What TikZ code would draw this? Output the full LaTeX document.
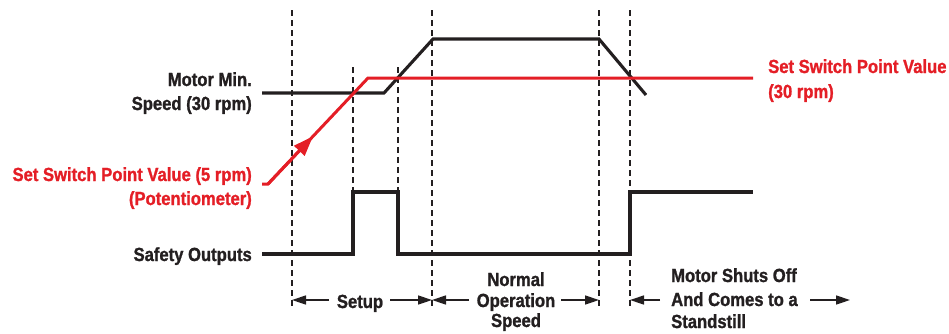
\documentclass[tikz,border=0pt]{standalone}
\usepackage{fontspec}
\setmainfont{Liberation Sans}[FakeStretch=0.875, BoldFeatures={FakeBold=1.2}]
\usetikzlibrary{arrows.meta,calc}
\definecolor{sred}{HTML}{E41E26}
\definecolor{sblk}{HTML}{231F20}
\begin{document}
\begin{tikzpicture}[x=1pt,y=-1pt,
  sig/.style={line width=3.1pt, sblk, line join=miter},
  rsig/.style={line width=3pt, sred, line join=miter},
  guide/.style={line width=1.3pt, sblk, dash pattern=on 6pt off 4pt},
  lbl/.style={font=\fontsize{19}{24}\selectfont\bfseries, text=sblk, inner sep=0pt},
  rlbl/.style={lbl, text=sred},
  span/.style={line width=1.5pt, sblk, -{Triangle[length=14pt,width=9pt]}},
]
\useasboundingbox (0,0) rectangle (949,333);

% guide lines
\coordinate (g1t) at (292,10);  \coordinate (g1b) at (292,308);
\coordinate (g2t) at (353,67);  \coordinate (g2b) at (353,192);
\coordinate (g3t) at (398,67);  \coordinate (g3b) at (398,192);
\coordinate (g4t) at (432,10);  \coordinate (g4b) at (432,308);
\coordinate (g5t) at (599,10);  \coordinate (g5b) at (599,308);
\coordinate (g6t) at (630,10);  \coordinate (g6b) at (630,308);
\foreach \g in {1,...,6} { \draw[guide] (g\g t) -- (g\g b); }

% motor speed
\coordinate (m1) at (262,93);
\coordinate (m2) at (384,93);
\coordinate (m3) at (433,39);
\coordinate (m4) at (599,39);
\coordinate (m5) at (646,95);
\draw[sig] (m1) -- (m2) -- (m3) -- (m4) -- (m5);

% set switch point value
\coordinate (r1) at (262,184);
\coordinate (r2) at (268,184);
\coordinate (r3) at (368,78);
\coordinate (r4) at (753,78);
\draw[rsig] (r1) -- (r2) -- (r3) -- (r4);
\draw[rsig, -{Triangle[length=20pt,width=14pt]}] (r2) -- ($(r2)!0.45!(r3)$);

% safety outputs
\coordinate (s1) at (262,254);
\coordinate (s2) at (353,254);
\coordinate (s3) at (353,192);
\coordinate (s4) at (398,192);
\coordinate (s5) at (398,254);
\coordinate (s6) at (630,254);
\coordinate (s7) at (630,192);
\coordinate (s8) at (753,192);
\draw[sig] (s1) -- (s2) -- (s3) -- (s4) -- (s5) -- (s6) -- (s7) -- (s8);

% left labels
\node[lbl, anchor=base east] (mm1) at (252,86) {Motor Min.};
\node[lbl, anchor=base east] (mm2) at (252,110) {Speed (30 rpm)};
\node[rlbl, anchor=base east] (sp1) at (252,181) {Set Switch Point Value (5 rpm)};
\node[rlbl, anchor=base east] (sp2) at (252,205) {(Potentiometer)};
\node[lbl, anchor=base east] (so) at (252,261) {Safety Outputs};

% right labels
\node[rlbl, anchor=base west] (sr1) at (768,73) {Set Switch Point Value};
\node[rlbl, anchor=base west] (sr2) at (768,98) {(30 rpm)};

% bottom spans
\node[lbl, anchor=base] (setup) at (360,308) {Setup};
\coordinate (a1) at (329,300); \coordinate (a1t) at (292,300);
\coordinate (a2) at (390,300); \coordinate (a2t) at (432,300);
\draw[span] (a1) -- (a1t);
\draw[span] (a2) -- (a2t);

\node[lbl, anchor=base] (n1) at (516,286) {Normal};
\node[lbl, anchor=base] (n2) at (516,307) {Operation};
\node[lbl, anchor=base] (n3) at (516,327) {Speed};
\coordinate (b1) at (469,300); \coordinate (b1t) at (432,300);
\coordinate (b2) at (561,300); \coordinate (b2t) at (599,300);
\draw[span] (b1) -- (b1t);
\draw[span] (b2) -- (b2t);

\node[lbl, anchor=base west] (ms1) at (671,282) {Motor Shuts Off};
\node[lbl, anchor=base west] (ms2) at (671,306) {And Comes to a};
\node[lbl, anchor=base west] (ms3) at (671,328) {Standstill};
\coordinate (c1) at (660,300); \coordinate (c1t) at (630,300);
\coordinate (c2) at (810,300); \coordinate (c2t) at (850,300);
\draw[span] (c1) -- (c1t);
\draw[span] (c2) -- (c2t);
\end{tikzpicture}
\end{document}
